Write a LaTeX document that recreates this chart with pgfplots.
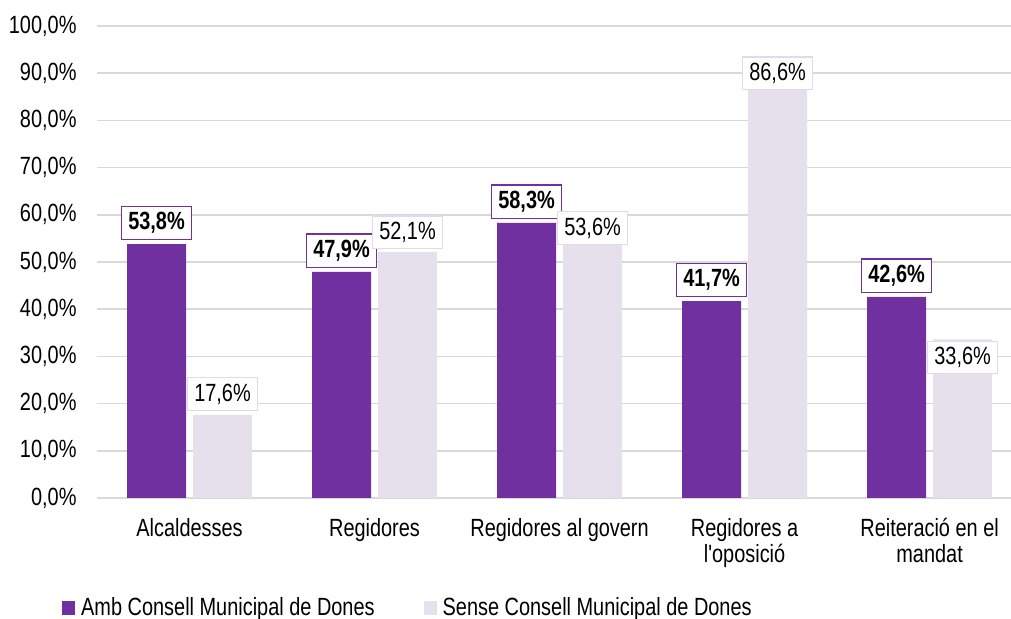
\documentclass[border=0pt]{standalone}
\usepackage{pgfplots}
\pgfplotsset{compat=1.18}
\usepackage{fontspec}
\setmainfont{Liberation Sans}[FakeStretch=0.8, Ligatures=TeXOff]
\definecolor{cpurple}{HTML}{7030A0}
\definecolor{clight}{HTML}{E6E0EC}
\definecolor{clightb}{HTML}{E2DAEC}
\definecolor{cgrid}{HTML}{D9D9D9}
\begin{document}
\fontsize{25}{26}\selectfont
\begin{tikzpicture}[x=1bp,y=1bp]
\useasboundingbox (-97,-121) rectangle (914,498);
\begin{axis}[
  at={(0,0)}, anchor=south west,
  scale only axis, width=914bp, height=472bp,
  xmin=-0.5, xmax=4.44, ymin=0, ymax=100,
  ytick={0,10,...,100},
  xtick={0,1,2,3,4},
  xticklabels={Alcaldesses,Regidores,Regidores al govern,Regidores a\\l'oposició,Reiteració en el\\mandat},
  xticklabel style={align=center, yshift=-12bp, font=\fontsize{25}{26}\selectfont},
  yticklabel style={xshift=-12bp},
  /pgf/number format/.cd, fixed, fixed zerofill, precision=1, use comma, assume math mode=true,
  /pgfplots/.cd,
  yticklabel={\pgfmathprintnumber{\tick}\%},
  major tick length=0pt,
  axis line style={draw=none},
  ymajorgrids, grid style={cgrid, line width=1.6bp},
  ybar, bar width=59bp,
  tick label style={font=\fontsize{25}{26}\selectfont},
  nodes near coords={\pgfmathprintnumber{\pgfplotspointmeta}\%},
  legend style={at={(rel axis cs:0,0)}, anchor=west, xshift=-35bp, yshift=-110bp, draw=none, fill=none,
    font=\fontsize{25}{26}\selectfont, inner sep=0pt,
    /tikz/every even column/.append style={column sep=47bp}},
  legend columns=2,
  legend image code/.code={\fill[#1] (0bp,-6.5bp) rectangle (13bp,6.5bp); \path (17bp,0bp);},
  legend cell align=left,
]
\addplot+[bar shift=-33bp, draw=none, fill=cpurple,
  every node near coord/.append style={anchor=south, yshift=4bp, draw=cpurple, line width=1.2bp, fill=white, text=black, font=\bfseries\fontsize{25}{26}\selectfont, inner xsep=6.5bp, inner ysep=6bp}]
  coordinates {(0,53.8) (1,47.9) (2,58.3) (3,41.7) (4,42.6)};
\addplot+[bar shift=33bp, draw=none, fill=clight,
  visualization depends on={\thisrow{off} \as \myoff},
  every node near coord/.append style={anchor=south, yshift=\myoff, draw=clightb, line width=1.2bp, fill=white, text=black, font=\fontsize{25}{26}\selectfont, inner xsep=6.5bp, inner ysep=6bp}]
  table[x=x, y=y] {
  x y off
  0 17.6 4bp
  1 52.1 3bp
  2 53.6 0bp
  3 86.6 -1bp
  4 33.6 -35bp
  };
\legend{Amb Consell Municipal de Dones, Sense Consell Municipal de Dones}
\end{axis}
\end{tikzpicture}
\end{document}
